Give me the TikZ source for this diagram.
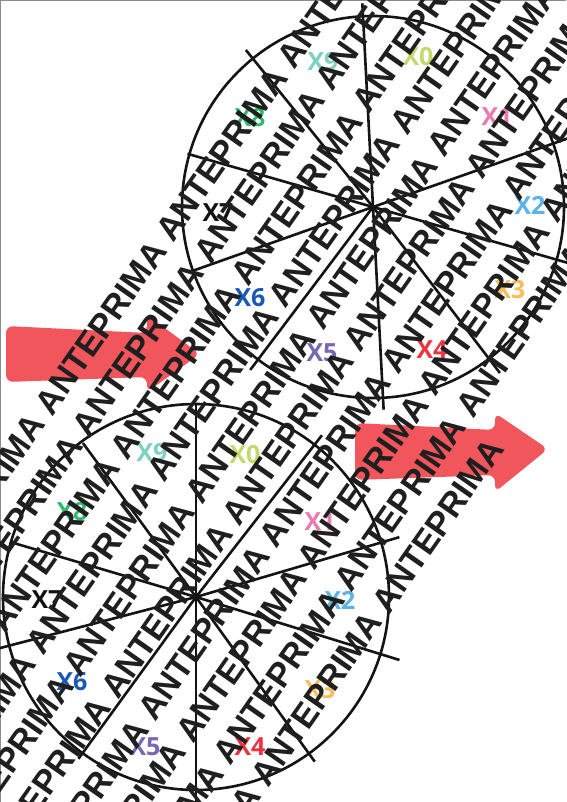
\documentclass[tikz,border=0pt]{standalone}
\usepackage{fontspec}
\setmainfont{Liberation Sans}
\newfontfamily\labfont{Open Sans}
\definecolor{arrowred}{RGB}{240,86,92}
\definecolor{cNine}{RGB}{126,208,192}
\definecolor{cZero}{RGB}{194,217,107}
\definecolor{cOne}{RGB}{232,122,180}
\definecolor{cTwo}{RGB}{90,180,234}
\definecolor{cThree}{RGB}{251,189,90}
\definecolor{cFour}{RGB}{238,51,64}
\definecolor{cFive}{RGB}{119,103,181}
\definecolor{cSix}{RGB}{26,90,181}
\definecolor{cSeven}{RGB}{17,17,17}
\definecolor{cEight}{RGB}{45,187,106}
\tikzset{
  redarrow/.style={fill=arrowred, rounded corners=7pt},
  circ/.style={line width=2.6pt, draw=black!92},
  lab/.style={font=\labfont\bfseries\fontsize{25}{25}\selectfont, inner sep=0pt},
  wm/.style={font=\bfseries\fontsize{34}{34}\selectfont, text=black!88, inner sep=0pt, rotate=55, anchor=base west},
  frame/.style={draw=black!45, line width=1.5pt}
}
\begin{document}
\begin{tikzpicture}[x=1pt,y=1pt]
\useasboundingbox (0,0) rectangle (566,-802);
\fill[white] (0,0) rectangle (566,-802);
\draw[frame] (0.5,-802) -- (0.5,-0.5) -- (566,-0.5);

% arrows
\fill[redarrow] (6,-326) -- (147,-333) -- (147,-315) -- (200,-354) -- (147,-392) -- (147,-377) -- (6,-382) -- cycle;
\fill[redarrow] (355,-423) -- (495,-430) -- (495,-413) -- (548,-449) -- (495,-492) -- (495,-475) -- (355,-480) -- cycle;

% top circle
\coordinate (c1) at (373,-207);
\draw[circ] (c1) circle[radius=191];
\foreach \a/\l in {93/204,129/202,164/193,-160.5/191,-127/204,-87/203,-52.6/209,-16/225,19.4/225}
  \draw[circ] (c1) -- ++(\a:\l);

% bottom circle
\coordinate (c2) at (196,-597);
\draw[circ] (c2) circle[radius=193];
\foreach \a/\l in {90/193,52.1/205,16.4/212,-17.2/213,-54.2/203,-90/215,-126/200,-165.4/205,163.5/194,126.3/191}
  \draw[circ] (c2) -- ++(\a:\l);

% labels top
\node[lab, text=cNine]  (a9) at (323,-62)  {X9};
\node[lab, text=cZero]  (a0) at (418,-57)  {X0};
\node[lab, text=cOne]   (a1) at (497,-117) {X1};
\node[lab, text=cTwo]   (a2) at (530,-205) {X2};
\node[lab, text=cThree] (a3) at (510,-290) {X3};
\node[lab, text=cFour]  (a4) at (432,-350) {X4};
\node[lab, text=cFive]  (a5) at (322,-353) {X5};
\node[lab, text=cSix]   (a6) at (250,-298) {X6};
\node[lab, text=cSeven] (a7) at (218,-213) {X7};
\node[lab, text=cEight] (a8) at (250,-118) {X8};
% labels bottom
\node[lab, text=cNine]  (b9) at (152,-453) {X9};
\node[lab, text=cZero]  (b0) at (245,-455) {X0};
\node[lab, text=cOne]   (b1) at (320,-522) {X1};
\node[lab, text=cTwo]   (b2) at (340,-600) {X2};
\node[lab, text=cThree] (b3) at (320,-690) {X3};
\node[lab, text=cFour]  (b4) at (250,-747) {X4};
\node[lab, text=cFive]  (b5) at (145,-747) {X5};
\node[lab, text=cSix]   (b6) at (72,-682)  {X6};
\node[lab, text=cSeven] (b7) at (47,-600)  {X7};
\node[lab, text=cEight] (b8) at (72,-512)  {X8};

% watermark
\begin{scope}
\clip (0,0) rectangle (566,-802);
\foreach \k in {0,...,8} {
  \pgfmathsetmacro\db{282+43.3*\k}
  \pgfmathsetmacro\ph{-312+0.08*(\db-282)-846}
  \node[wm] (w\k) at ({0.8192*\db+0.5736*\ph},{-(0.5736*\db-0.8192*\ph)})
    {ANTEPRIMA ANTEPRIMA ANTEPRIMA ANTEPRIMA ANTEPRIMA ANTEPRIMA ANTEPRIMA ANTEPRIMA};
}
\pgfmathsetmacro\db{282+43.3*9}
\pgfmathsetmacro\ph{-312+0.08*(\db-282)-846}
\node[wm] (w9) at ({0.8192*\db+0.5736*\ph},{-(0.5736*\db-0.8192*\ph)})
  {ANTEPRIMA ANTEPRIMA ANTEPRIMA ANTEPRIMA ANTEPRIMA};
\end{scope}
\end{tikzpicture}
\end{document}
